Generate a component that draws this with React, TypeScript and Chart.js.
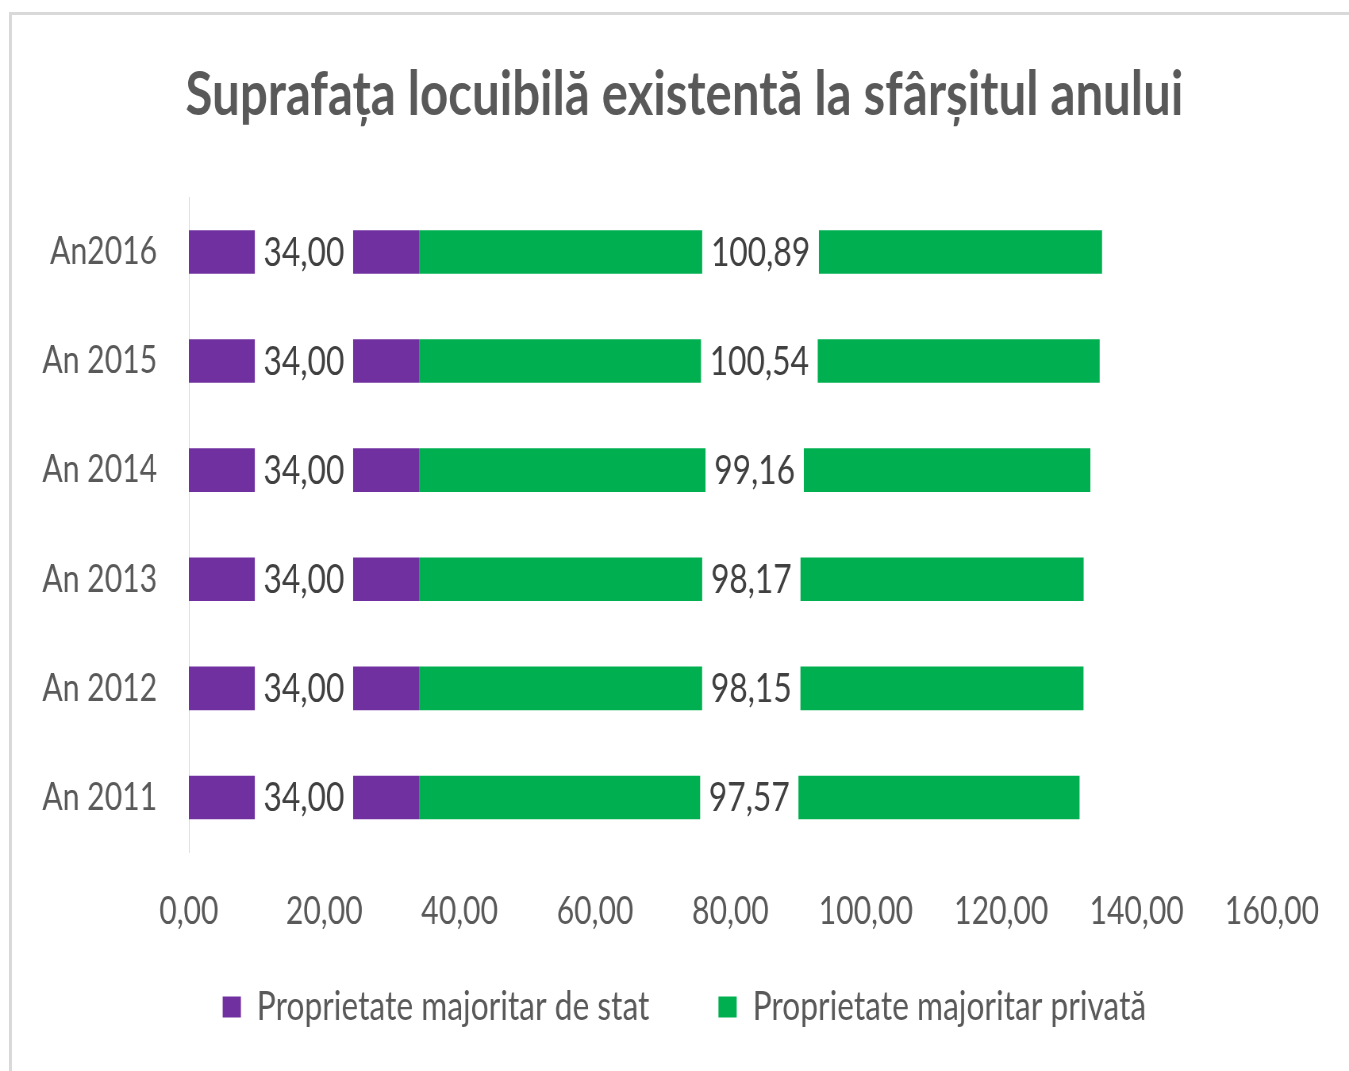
import React, { useEffect, useRef } from "react";
import { Chart, registerables } from "chart.js";

Chart.register(...registerables);

const categories = ["An2016", "An 2015", "An 2014", "An 2013", "An 2012", "An 2011"];
const stateValues = [34.0, 34.0, 34.0, 34.0, 34.0, 34.0];
const privateValues = [100.89, 100.54, 99.16, 98.17, 98.15, 97.57];
const seriesNames = ["Proprietate majoritar de stat", "Proprietate majoritar privată"];
const seriesColors = ["#7030A0", "#00B050"];
const titleText = "Suprafața locuibilă existentă la sfârșitul anului";
const xMin = 0;
const xMax = 160;
const xStep = 20;

// The canvas is drawn wider than shown and squeezed horizontally by CSS,
// which narrows the glyphs like the condensed look of the reference.
const CSS_W = 1349;
const CSS_H = 1071;
const CANVAS_W = 1700;

const FONT = 'Lato, "Open Sans", "DejaVu Sans", sans-serif';
const Y_FONT_SIZE = 38;
const Y_LABEL_GAP = 40;
const fmt = (v: number) => Number(v).toFixed(2).split(".").join(",");

const labelPlugin = {
  id: "barLabels",
  afterDatasetsDraw(chart: any) {
    const ctx = chart.ctx;
    ctx.save();
    ctx.font = `40px ${FONT}`;
    ctx.textAlign = "center";
    ctx.textBaseline = "middle";
    chart.data.datasets.forEach((ds: any, di: number) => {
      const meta = chart.getDatasetMeta(di);
      meta.data.forEach((el: any, i: number) => {
        const { x, y, base, height } = el.getProps(["x", "y", "base", "height"], true);
        const cx = (x + base) / 2;
        const text = fmt(ds.data[i]);
        const w = ctx.measureText(text).width + 22;
        ctx.fillStyle = "#ffffff";
        ctx.fillRect(cx - w / 2, y - height / 2 - 1, w, height + 2);
        ctx.fillStyle = "#404040";
        ctx.fillText(text, cx, y + 1);
      });
    });
    ctx.restore();
  },
};

// let the x tick labels (with their comma descenders) draw below the thin x-axis box
const unclipXLabels = {
  id: "unclipXLabels",
  afterLayout(chart: any) {
    const s = chart.scales.x;
    if (s) s.bottom = chart.height;
  },
};

export default function App() {
  const ref = useRef<HTMLCanvasElement>(null);
  useEffect(() => {
    document.body.style.margin = "0";
    const mctx = document.createElement("canvas").getContext("2d") as CanvasRenderingContext2D;
    mctx.font = `${Y_FONT_SIZE}px ${FONT}`;
    const widest = Math.max(...categories.map((c) => mctx.measureText(c).width));

    const chart = new Chart(ref.current as HTMLCanvasElement, {
      type: "bar",
      data: {
        labels: categories,
        datasets: [
          {
            label: seriesNames[0],
            data: stateValues,
            backgroundColor: seriesColors[0],
            categoryPercentage: 1,
            barPercentage: 0.4,
          },
          {
            label: seriesNames[1],
            data: privateValues,
            backgroundColor: seriesColors[1],
            categoryPercentage: 1,
            barPercentage: 0.4,
          },
        ],
      },
      options: {
        indexAxis: "y",
        responsive: false,
        animation: false,
        layout: { padding: { left: 122, right: 97, top: 0, bottom: 34 } },
        scales: {
          x: {
            stacked: true,
            min: xMin,
            max: xMax,
            ticks: {
              stepSize: xStep,
              callback: (v: any) => fmt(Number(v)),
              font: { size: 38, family: FONT },
              color: "#595959",
              padding: 37,
              maxRotation: 0,
              autoSkip: false,
            },
            grid: { display: false, drawTicks: false },
            border: { display: false },
            afterFit: (s: any) => {
              s.height = 48;
            },
          },
          y: {
            stacked: true,
            ticks: {
              font: { size: Y_FONT_SIZE, family: FONT },
              color: "#595959",
              mirror: true,
              crossAlign: "far",
              padding: -(Y_LABEL_GAP + widest),
            },
            grid: { display: false, drawTicks: false },
            border: { display: true, color: "#d9d9d9", width: 1 },
            afterFit: (s: any) => {
              s.width = 116;
            },
          },
        },
        plugins: {
          title: {
            display: true,
            text: titleText,
            font: { size: 62, weight: "bold", family: FONT },
            color: "#595959",
            padding: { top: 58, bottom: 65 },
          },
          legend: {
            position: "bottom",
            labels: {
              boxWidth: 23,
              boxHeight: 21,
              font: { size: 40, family: FONT },
              color: "#595959",
              padding: 87,
            },
          },
          tooltip: { enabled: false },
        },
      } as any,
      plugins: [labelPlugin, unclipXLabels],
    });
    return () => chart.destroy();
  }, []);

  return (
    <div
      style={{
        position: "absolute",
        left: 0,
        top: 0,
        width: CSS_W,
        height: CSS_H,
        overflow: "hidden",
        background: "#fff",
      }}
    >
      <div
        style={{
          position: "absolute",
          left: 9,
          top: 12,
          width: 1400,
          height: 1200,
          border: "3px solid #d9d9d9",
          boxSizing: "border-box",
        }}
      />
      <canvas
        ref={ref}
        width={CANVAS_W}
        height={CSS_H}
        style={{ position: "absolute", left: 0, top: 0, width: CSS_W, height: CSS_H }}
      />
    </div>
  );
}
